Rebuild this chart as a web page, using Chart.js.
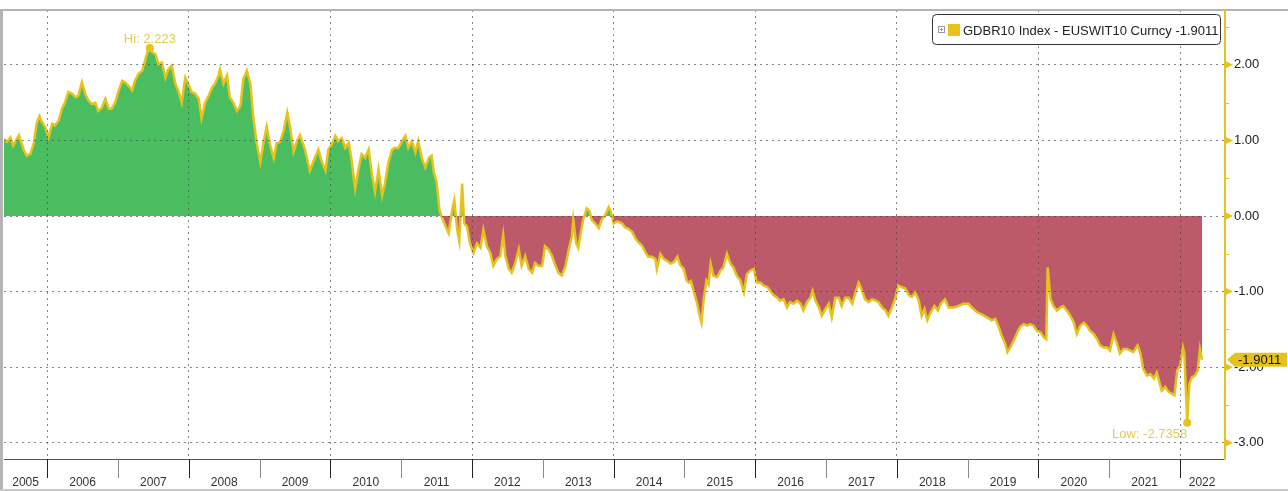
<!DOCTYPE html>
<html>
<head>
<meta charset="utf-8">
<script src="https://cdn.jsdelivr.net/npm/chart.js"></script>
<style>
  body { margin: 0; background: #fff; }
  #wrap { position: relative; width: 1288px; height: 491px; }
</style>
</head>
<body>
<div id="wrap"><canvas id="spread" width="1288" height="491"></canvas></div>
<script>
// GDBR10 Index - EUSWIT10 Curncy, decimal years
const dates = [
  2005.39, 2005.43, 2005.48, 2005.52, 2005.60, 2005.67, 2005.71, 2005.76, 2005.81, 2005.85, 2005.89, 2005.92, 2005.97,
  2006.02, 2006.07, 2006.11, 2006.16, 2006.21, 2006.25, 2006.30, 2006.35, 2006.40, 2006.44, 2006.49, 2006.54, 2006.58,
  2006.63, 2006.68, 2006.72, 2006.77, 2006.82, 2006.87, 2006.91, 2006.96,
  2007.01, 2007.06, 2007.10, 2007.15, 2007.20, 2007.24, 2007.29, 2007.34, 2007.38, 2007.43, 2007.45, 2007.48, 2007.53,
  2007.57, 2007.62, 2007.67, 2007.71, 2007.76, 2007.81, 2007.85, 2007.90, 2007.95, 2007.99,
  2008.04, 2008.09, 2008.14, 2008.18, 2008.23, 2008.28, 2008.33, 2008.37, 2008.42, 2008.44, 2008.49, 2008.54, 2008.58,
  2008.63, 2008.68, 2008.73, 2008.77, 2008.82, 2008.87, 2008.91, 2008.96,
  2009.01, 2009.06, 2009.10, 2009.15, 2009.20, 2009.24, 2009.29, 2009.34, 2009.39, 2009.43, 2009.48, 2009.53, 2009.57,
  2009.64, 2009.71, 2009.78, 2009.83, 2009.88, 2009.93, 2009.97,
  2010.02, 2010.07, 2010.11, 2010.16, 2010.21, 2010.26, 2010.30, 2010.35, 2010.40, 2010.44, 2010.49, 2010.54, 2010.59,
  2010.63, 2010.68, 2010.73, 2010.77, 2010.82, 2010.87, 2010.91, 2010.96,
  2011.01, 2011.06, 2011.10, 2011.15, 2011.20, 2011.24, 2011.29, 2011.34, 2011.39, 2011.43, 2011.46, 2011.50, 2011.54,
  2011.57, 2011.62, 2011.67, 2011.72, 2011.75, 2011.79, 2011.82, 2011.86, 2011.89, 2011.93, 2011.97,
  2012.02, 2012.07, 2012.12, 2012.16, 2012.21, 2012.26, 2012.30, 2012.35, 2012.40, 2012.44, 2012.47, 2012.52, 2012.56,
  2012.61, 2012.66, 2012.70, 2012.75, 2012.80, 2012.85, 2012.89, 2012.94, 2012.99,
  2013.03, 2013.08, 2013.13, 2013.17, 2013.22, 2013.27, 2013.32, 2013.36, 2013.41, 2013.43, 2013.47, 2013.50, 2013.54,
  2013.57, 2013.62, 2013.66, 2013.69, 2013.74, 2013.79, 2013.83, 2013.88, 2013.93, 2013.96,
  2014.00, 2014.05, 2014.12, 2014.16, 2014.21, 2014.26, 2014.31, 2014.35, 2014.40, 2014.45, 2014.49, 2014.54, 2014.59,
  2014.61, 2014.66, 2014.71, 2014.75, 2014.80, 2014.85, 2014.90, 2014.94, 2014.99,
  2015.03, 2015.06, 2015.09, 2015.13, 2015.18, 2015.21, 2015.24, 2015.27, 2015.31, 2015.34, 2015.37, 2015.41, 2015.46,
  2015.51, 2015.55, 2015.60, 2015.65, 2015.69, 2015.74, 2015.79, 2015.84, 2015.88, 2015.93, 2015.98,
  2016.02, 2016.07, 2016.12, 2016.17, 2016.21, 2016.26, 2016.31, 2016.35, 2016.40, 2016.45, 2016.49, 2016.54, 2016.59,
  2016.64, 2016.68, 2016.73, 2016.78, 2016.81, 2016.85, 2016.90, 2016.94, 2016.99,
  2017.04, 2017.08, 2017.13, 2017.18, 2017.22, 2017.27, 2017.32, 2017.37, 2017.41, 2017.46, 2017.51, 2017.55, 2017.60,
  2017.65, 2017.70, 2017.74, 2017.79, 2017.84, 2017.88, 2017.93, 2017.98,
  2018.02, 2018.07, 2018.12, 2018.17, 2018.21, 2018.26, 2018.31, 2018.35, 2018.39, 2018.43, 2018.48, 2018.53, 2018.58,
  2018.62, 2018.68, 2018.73, 2018.80, 2018.87, 2018.94,
  2019.01, 2019.06, 2019.13, 2019.20, 2019.27, 2019.34, 2019.39, 2019.44, 2019.48, 2019.53, 2019.56, 2019.60, 2019.65,
  2019.70, 2019.74, 2019.79, 2019.84, 2019.88, 2019.93, 2019.98,
  2020.03, 2020.07, 2020.11, 2020.13, 2020.17, 2020.21, 2020.26, 2020.31, 2020.35, 2020.40, 2020.45, 2020.50, 2020.54,
  2020.59, 2020.64, 2020.68, 2020.73, 2020.78, 2020.83, 2020.87, 2020.92, 2020.97,
  2021.01, 2021.06, 2021.11, 2021.15, 2021.20, 2021.25, 2021.30, 2021.34, 2021.40, 2021.44, 2021.48, 2021.53, 2021.58,
  2021.63, 2021.67, 2021.71, 2021.74, 2021.79, 2021.84, 2021.88, 2021.92, 2021.96,
  2022.00, 2022.04, 2022.06, 2022.10, 2022.13, 2022.17, 2022.21, 2022.25, 2022.28, 2022.31
];

const spread = [
  1.02, 0.98, 1.04, 0.93, 1.07, 0.87, 0.80, 0.82, 0.96, 1.22, 1.32, 1.25, 1.18,
  1.04, 1.22, 1.20, 1.26, 1.42, 1.50, 1.64, 1.62, 1.57, 1.59, 1.77, 1.61, 1.53,
  1.48, 1.50, 1.39, 1.43, 1.55, 1.42, 1.42, 1.50,
  1.66, 1.79, 1.77, 1.72, 1.66, 1.79, 1.88, 1.92, 2.05, 2.21, 2.223, 2.17, 2.14,
  2.01, 2.03, 1.83, 1.94, 1.99, 1.75, 1.66, 1.50, 1.83, 1.75,
  1.64, 1.62, 1.55, 1.29, 1.50, 1.59, 1.70, 1.75, 1.86, 1.94, 1.75, 1.86, 1.57,
  1.50, 1.39, 1.46, 1.81, 1.92, 1.75, 1.31, 0.96,
  0.71, 1.00, 1.18, 0.93, 0.76, 0.96, 0.98, 1.13, 1.37, 1.18, 0.85, 1.00, 1.07,
  0.88, 0.60, 0.77, 0.88, 0.71, 0.60, 0.88,
  0.95, 1.06, 0.99, 1.03, 0.90, 0.97, 0.73, 0.36, 0.64, 0.82, 0.77, 0.88, 0.53,
  0.32, 0.62, 0.27, 0.43, 0.71, 0.88, 0.90, 0.90,
  0.99, 1.06, 0.90, 0.99, 0.84, 0.99, 0.77, 0.64, 0.77, 0.80, 0.58, 0.45, 0.08,
  -0.01, -0.12, -0.23, 0.08, 0.21, -0.18, -0.33, 0.43, -0.10, -0.14, -0.36,
  -0.49, -0.36, -0.42, -0.18, -0.40, -0.49, -0.66, -0.57, -0.53, -0.25, -0.53, -0.70, -0.75,
  -0.62, -0.44, -0.66, -0.53, -0.70, -0.75, -0.62, -0.66, -0.66,
  -0.40, -0.44, -0.53, -0.64, -0.75, -0.79, -0.66, -0.47, -0.27, -0.05, -0.36, -0.42, -0.20,
  -0.05, 0.10, 0.06, -0.05, -0.10, -0.16, -0.05, 0.01, 0.12, 0.06,
  -0.10, -0.07, -0.10, -0.15, -0.17, -0.21, -0.30, -0.35, -0.39, -0.48, -0.54, -0.54, -0.57,
  -0.70, -0.50, -0.57, -0.59, -0.63, -0.61, -0.54, -0.65, -0.70,
  -0.85, -0.88, -0.86, -0.99, -1.16, -1.30, -1.41, -1.12, -0.85, -0.90, -0.63, -0.79, -0.81,
  -0.72, -0.68, -0.50, -0.63, -0.68, -0.79, -0.85, -1.01, -0.77, -0.72, -0.70,
  -0.88, -0.88, -0.92, -0.94, -0.99, -1.05, -1.08, -1.12, -1.10, -1.21, -1.14, -1.16, -1.12,
  -1.16, -1.25, -1.14, -1.08, -0.99, -1.12, -1.21, -1.32, -1.23,
  -1.16, -1.34, -1.08, -1.08, -1.19, -1.08, -1.08, -1.16, -1.03, -0.88, -0.99, -1.10, -1.14,
  -1.10, -1.12, -1.14, -1.21, -1.25, -1.32, -1.21, -1.08,
  -0.92, -0.94, -0.96, -1.05, -1.07, -1.01, -1.12, -1.32, -1.23, -1.38, -1.27, -1.19, -1.25,
  -1.16, -1.10, -1.21, -1.21, -1.19, -1.16,
  -1.16, -1.21, -1.27, -1.30, -1.34, -1.38, -1.36, -1.47, -1.58, -1.69, -1.80, -1.74, -1.65,
  -1.54, -1.47, -1.43, -1.45, -1.43, -1.45, -1.52,
  -1.54, -1.60, -1.63, -0.68, -1.10, -1.19, -1.25, -1.21, -1.19, -1.25, -1.32, -1.41, -1.56,
  -1.45, -1.41, -1.45, -1.52, -1.56, -1.63, -1.71, -1.74, -1.74,
  -1.78, -1.56, -1.69, -1.82, -1.76, -1.76, -1.78, -1.80, -1.71, -1.82, -2.02, -2.11, -2.09,
  -2.15, -2.07, -2.20, -2.31, -2.26, -2.33, -2.35, -2.37, -2.04,
  -1.98, -1.74, -1.82, -2.7358, -2.22, -2.13, -2.11, -2.04, -1.76, -1.9011
];

const yearLabels = [2005, 2006, 2007, 2008, 2009, 2010, 2011, 2012, 2013, 2014, 2015, 2016, 2017, 2018, 2019, 2020, 2021, 2022];
const gridYears = [2006, 2008, 2010, 2012, 2014, 2016, 2018, 2020, 2022];
const yTicks = [-3, -2, -1, 0, 1, 2];
const yMinorTicks = [-2.5, -1.5, -0.5, 0.5, 1.5, 2.5];
const seriesName = 'GDBR10 Index - EUSWIT10 Curncy';

const YELLOW = '#e6c31c';
const GREEN = '#4bbd61';
const RED = '#bc5a6a';
const FONT = '"Liberation Sans", Arial, sans-serif';
const DOTS = 'rgba(70,70,70,0.65)';

const points = dates.map((d, i) => ({ x: d, y: spread[i] }));
let hiIdx = 0, loIdx = 0;
spread.forEach((v, i) => {
  if (v > spread[hiIdx]) hiIdx = i;
  if (v < spread[loIdx]) loIdx = i;
});
const lastVal = spread[spread.length - 1];

const decorations = {
  id: 'decorations',
  afterDatasetsDraw(chart) {
    const ctx = chart.ctx;
    const xs = chart.scales.x, ys = chart.scales.y;
    ctx.save();
    ctx.font = '13px ' + FONT;
    ctx.fillStyle = '#e3cc55';
    // Hi label
    const hx = xs.getPixelForValue(dates[hiIdx]), hy = ys.getPixelForValue(spread[hiIdx]);
    ctx.textAlign = 'center';
    ctx.textBaseline = 'alphabetic';
    ctx.fillText('Hi: ' + spread[hiIdx].toFixed(3), hx, hy - 5);
    // Low label
    const lx = xs.getPixelForValue(dates[loIdx]), ly = ys.getPixelForValue(spread[loIdx]);
    ctx.textAlign = 'right';
    ctx.fillText('Low: ' + spread[loIdx].toFixed(4), lx, ly + 15);
    ctx.restore();
  },
  afterDraw(chart) {
    const ctx = chart.ctx;
    const xs = chart.scales.x, ys = chart.scales.y;
    const area = chart.chartArea;
    ctx.save();

    // frame lines
    ctx.fillStyle = '#b4b4b4';
    ctx.fillRect(0, 9, chart.width, 2);
    ctx.fillRect(0, 9, 3, chart.height - 9);
    ctx.fillStyle = '#c8c8c8';
    ctx.fillRect(0, chart.height - 2, chart.width, 2);
    ctx.fillStyle = '#555';
    ctx.fillRect(area.left, Math.round(area.bottom), area.right - area.left + 1, 1);
    // yellow value axis
    ctx.fillStyle = YELLOW;
    ctx.fillRect(Math.round(area.right), area.top, 2, area.bottom - area.top + 1);

    // year separators and labels
    ctx.font = '12px ' + FONT;
    ctx.textAlign = 'center';
    ctx.textBaseline = 'alphabetic';
    yearLabels.forEach(yr => {
      const a = xs.getPixelForValue(Math.max(yr, xs.min));
      const b = xs.getPixelForValue(Math.min(yr + 1, xs.max));
      ctx.fillStyle = '#333';
      ctx.fillText(String(yr), (a + b) / 2, chart.height - 5);
      if (yr > xs.min) {
        ctx.fillStyle = yr % 2 === 0 ? '#222' : '#8a8a8a';
        ctx.fillRect(Math.round(a), Math.round(area.bottom), 1, 19);
      }
    });

    // right axis markers
    ctx.fillStyle = YELLOW;
    yTicks.forEach(v => {
      const y = ys.getPixelForValue(v);
      ctx.beginPath();
      ctx.moveTo(area.right + 1, y - 4);
      ctx.lineTo(area.right + 9, y);
      ctx.lineTo(area.right + 1, y + 4);
      ctx.closePath();
      ctx.fill();
    });
    yMinorTicks.forEach(v => {
      const y = Math.round(ys.getPixelForValue(v));
      ctx.fillRect(area.right, y, 5, 1);
    });

    // last value tag
    const ty = ys.getPixelForValue(lastVal);
    ctx.beginPath();
    ctx.moveTo(area.right + 3, ty);
    ctx.lineTo(area.right + 11, ty - 7);
    ctx.lineTo(chart.width - 1, ty - 7);
    ctx.lineTo(chart.width - 1, ty + 7);
    ctx.lineTo(area.right + 11, ty + 7);
    ctx.closePath();
    ctx.fill();
    ctx.fillStyle = '#111';
    ctx.font = '13px ' + FONT;
    ctx.textAlign = 'left';
    ctx.textBaseline = 'middle';
    ctx.fillText(lastVal.toFixed(4), area.right + 14, ty + 1);

    // legend box
    const bx = 932.5, by = 14.5, bw = 288, bh = 30;
    ctx.beginPath();
    ctx.roundRect(bx, by, bw, bh, 4);
    ctx.fillStyle = '#fff';
    ctx.fill();
    ctx.strokeStyle = '#333';
    ctx.lineWidth = 1;
    ctx.stroke();
    ctx.strokeStyle = '#999';
    ctx.strokeRect(938.5, 26.5, 6, 6);
    ctx.fillStyle = '#999';
    ctx.fillRect(940, 29, 3, 1);
    ctx.fillRect(941, 28, 1, 3);
    ctx.fillStyle = YELLOW;
    ctx.fillRect(948, 24, 12, 12);
    ctx.fillStyle = '#222';
    ctx.textBaseline = 'alphabetic';
    ctx.fillText(seriesName + ' ' + lastVal.toFixed(4), 963, 35);

    ctx.restore();
  }
};

new Chart(document.getElementById('spread'), {
  type: 'line',
  data: {
    datasets: [{
      label: seriesName,
      data: points,
      borderColor: YELLOW,
      borderWidth: 2.5,
      tension: 0,
      fill: { target: { value: 0 }, above: GREEN, below: RED },
      pointRadius: ctx => (ctx.dataIndex === hiIdx || ctx.dataIndex === loIdx) ? 4 : 0,
      pointBackgroundColor: YELLOW,
      pointBorderWidth: 0,
      pointHoverRadius: 0
    }]
  },
  options: {
    responsive: false,
    animation: false,
    devicePixelRatio: 1,
    layout: { padding: { left: 4, top: 10, right: 0, bottom: 0 } },
    plugins: { legend: { display: false }, tooltip: { enabled: false } },
    events: [],
    scales: {
      x: {
        type: 'linear',
        min: 2005.39,
        max: 2022.62,
        afterBuildTicks: scale => { scale.ticks = gridYears.map(v => ({ value: v })); },
        afterFit: scale => { scale.height = 32; scale.paddingLeft = 0; scale.paddingRight = 0; },
        ticks: { display: false },
        border: { display: false, dash: [2, 4] },
        grid: { z: 1, color: DOTS, drawTicks: false }
      },
      y: {
        position: 'right',
        min: -3.214,
        max: 2.725,
        afterBuildTicks: scale => { scale.ticks = yTicks.map(v => ({ value: v })); },
        afterFit: scale => { scale.width = 64; scale.paddingTop = 0; scale.paddingBottom = 0; },
        ticks: {
          color: '#222',
          font: { size: 13, family: FONT },
          padding: 10,
          callback: v => v.toFixed(2)
        },
        border: { display: false, dash: [2, 4] },
        grid: { z: 1, color: DOTS, drawTicks: false }
      }
    }
  },
  plugins: [decorations]
});
</script>
</body>
</html>
